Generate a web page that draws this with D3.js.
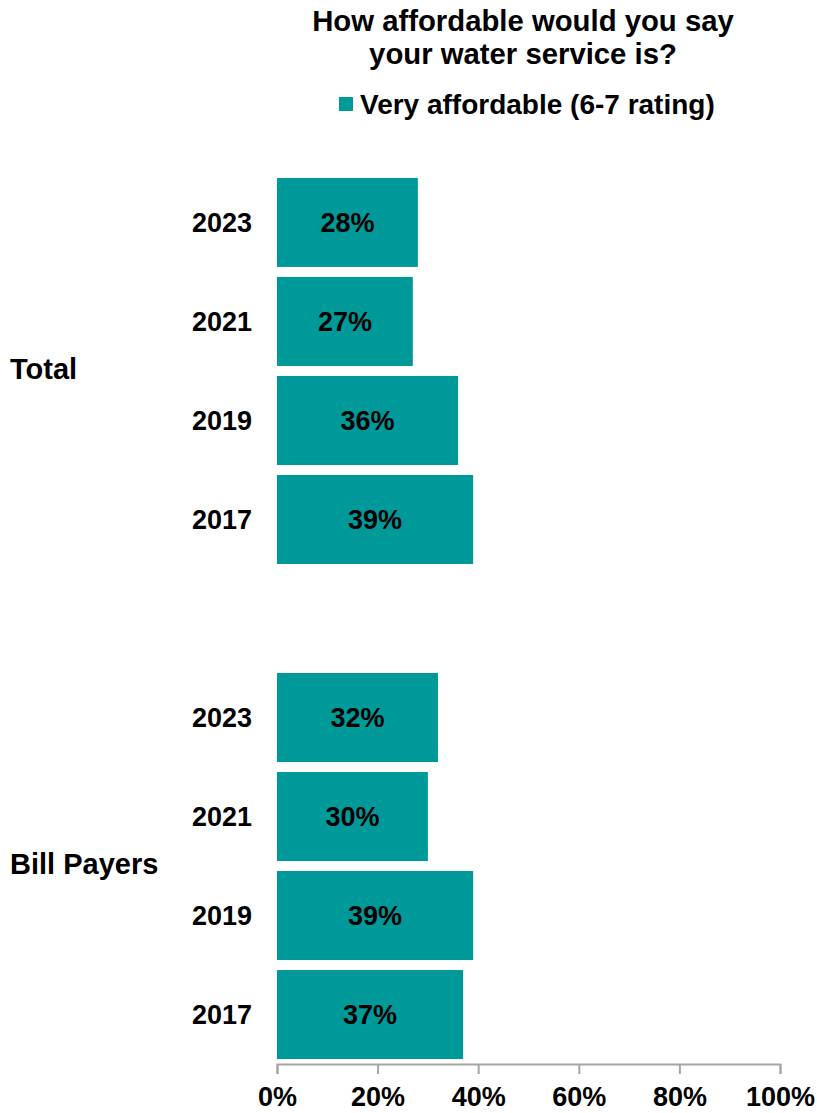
<!DOCTYPE html>
<html>
<head>
<meta charset="utf-8">
<script src="https://cdn.jsdelivr.net/npm/d3@7"></script>
<style>
  body { margin: 0; background: #fff; }
  text { font-family: "Liberation Sans", Arial, sans-serif; font-weight: bold; fill: #000; }
</style>
</head>
<body>
<svg id="chart"></svg>
<script>
const titleLines = ['How affordable would you say', 'your water service is?'];
const seriesName = 'Very affordable (6-7 rating)';
const groups = ['Total', 'Bill Payers'];
const years = ['2023', '2021', '2019', '2017'];
const totalValues = [28, 27, 36, 39];
const billPayerValues = [32, 30, 39, 37];
const tickValues = [0, 20, 40, 60, 80, 100];

const width = 817;
const height = 1113;
const barColor = '#009999';

const svg = d3.select('#chart')
    .attr('width', width)
    .attr('height', height);

// one row per bar, plus a blank row between groups
const rows = [];
groups.forEach((g, gi) => {
    const vals = gi === 0 ? totalValues : billPayerValues;
    years.forEach((yr, i) => rows.push({ key: `${g}-${yr}`, group: g, year: yr, value: vals[i] }));
    if (gi < groups.length - 1) rows.push({ key: `gap-${gi}`, gap: true });
});

const x = d3.scaleLinear().domain([0, 100]).range([277, 780]);
const y = d3.scaleBand()
    .domain(rows.map(d => d.key))
    .range([173, 1064])
    .paddingInner(0.101)
    .paddingOuter(0.05);

// title
svg.selectAll('.title')
    .data(titleLines)
    .join('text')
    .attr('class', 'title')
    .attr('x', 523)
    .attr('y', (d, i) => 31 + i * 33)
    .attr('text-anchor', 'middle')
    .style('font-size', '29.3px')
    .text(d => d);

// legend
const legend = svg.append('g');
legend.append('rect')
    .attr('x', 339).attr('y', 97)
    .attr('width', 14).attr('height', 14)
    .attr('fill', barColor);
legend.append('text')
    .attr('x', 360).attr('y', 114)
    .style('font-size', '28px')
    .text(seriesName);

const barRows = rows.filter(d => !d.gap);

svg.selectAll('.bar')
    .data(barRows)
    .join('rect')
    .attr('class', 'bar')
    .attr('x', x(0))
    .attr('y', d => y(d.key))
    .attr('width', d => x(d.value) - x(0))
    .attr('height', y.bandwidth())
    .attr('fill', barColor);

svg.selectAll('.val')
    .data(barRows)
    .join('text')
    .attr('class', 'val')
    .attr('x', d => (x(0) + x(d.value)) / 2)
    .attr('y', d => y(d.key) + y.bandwidth() / 2)
    .attr('dy', '0.36em')
    .attr('text-anchor', 'middle')
    .style('font-size', '27px')
    .text(d => `${d.value}%`);

svg.selectAll('.year')
    .data(barRows)
    .join('text')
    .attr('class', 'year')
    .attr('x', 252)
    .attr('y', d => y(d.key) + y.bandwidth() / 2)
    .attr('dy', '0.36em')
    .attr('text-anchor', 'end')
    .style('font-size', '27px')
    .text(d => d.year);

svg.selectAll('.group')
    .data(groups)
    .join('text')
    .attr('class', 'group')
    .attr('x', 10)
    .attr('y', g => {
        const ks = barRows.filter(d => d.group === g).map(d => d.key);
        return (y(ks[0]) + y(ks[ks.length - 1]) + y.bandwidth()) / 2 - 2;
    })
    .attr('dy', '0.36em')
    .style('font-size', '29px')
    .text(g => g);

// x axis
const axis = svg.append('g')
    .attr('transform', 'translate(0,1064)')
    .call(d3.axisBottom(x).tickValues(tickValues).tickSize(10).tickPadding(13).tickFormat(d => `${d}%`));
axis.select('.domain').attr('stroke', '#a6a6a6').attr('stroke-width', 2);
axis.selectAll('.tick line').attr('stroke', '#a6a6a6').attr('stroke-width', 2);
axis.selectAll('.tick text')
    .style('font-size', '27px')
    .attr('font-family', null);
</script>
</body>
</html>
